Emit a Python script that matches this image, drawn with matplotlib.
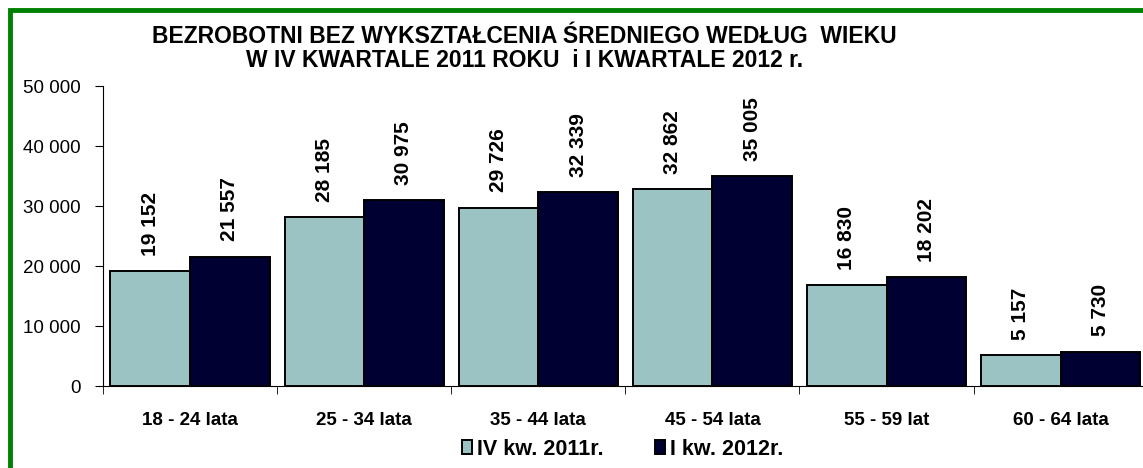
import matplotlib
matplotlib.use("Agg")
import matplotlib.pyplot as plt
import numpy as np
from matplotlib.patches import Rectangle
from matplotlib.ticker import FuncFormatter

plt.rcParams['font.family'] = ['Liberation Sans', 'DejaVu Sans']

# dane
kategorie = ["18 - 24 lata", "25 - 34 lata", "35 - 44 lata",
             "45 - 54 lata", "55 - 59 lat", "60 - 64 lata"]
kw4_2011 = [19152, 28185, 29726, 32862, 16830, 5157]
kw1_2012 = [21557, 30975, 32339, 35005, 18202, 5730]
serie = ["IV kw. 2011r.", "I kw. 2012r."]
kolory = ["#9BC3C3", "#000033"]


def spacja(v, pos=None):
    return f"{int(v):,}".replace(",", " ")


fig = plt.figure(figsize=(11.43, 4.68), dpi=100)
ax = fig.add_axes([0.0901, 0.1752, 0.914, 0.641])

x = np.arange(len(kategorie))
w = 0.457
for dane, kolor, nazwa, przes in zip([kw4_2011, kw1_2012], kolory, serie, [-w / 2, w / 2]):
    slupki = ax.bar(x + przes, dane, w, color=kolor, edgecolor="black",
                    linewidth=1.4, label=nazwa)
    for s, v in zip(slupki, dane):
        ax.annotate(spacja(v), (s.get_x() + s.get_width() / 2, v),
                    xytext=(0, 11), textcoords="offset points",
                    rotation=90, ha="center", va="bottom",
                    fontsize=15, fontweight="bold")

ax.set_xlim(-0.5, len(kategorie) - 0.5)
ax.set_ylim(0, 50000)
ax.set_yticks(range(0, 50001, 10000))
ax.yaxis.set_major_formatter(FuncFormatter(spacja))
ax.set_xticks(x)
ax.set_xticklabels(kategorie, fontweight="bold", fontsize=13.5)
ax.set_xticks(np.arange(-0.5, len(kategorie)), minor=True)
ax.tick_params(axis="x", which="major", length=0, pad=19)
ax.tick_params(axis="x", which="minor", length=6, direction="out")
ax.tick_params(axis="y", labelsize=13.5, length=6, pad=10)
for strona in ["top", "right"]:
    ax.spines[strona].set_visible(False)

fig.text(0.459, 0.897, "BEZROBOTNI BEZ WYKSZTAŁCENIA ŚREDNIEGO WEDŁUG  WIEKU\n"
         "W IV KWARTALE 2011 ROKU  i I KWARTALE 2012 r.",
         ha="center", va="center", fontsize=16.5, fontweight="bold",
         linespacing=1.05)

ax.legend(loc="center", bbox_to_anchor=(0.545, 0.04), bbox_transform=fig.transFigure,
          ncol=2, frameon=False, prop={"weight": "bold", "size": 15.5},
          handlelength=0.45, handleheight=0.6, handletextpad=0.25, columnspacing=2.4)

fig.patches.append(Rectangle((10 / 1143, -0.1), 1.2, 1.1 - 10 / 468,
                             transform=fig.transFigure, fill=False,
                             edgecolor="#008000", linewidth=3.5, zorder=10))

fig.savefig("out.png", dpi=100)
